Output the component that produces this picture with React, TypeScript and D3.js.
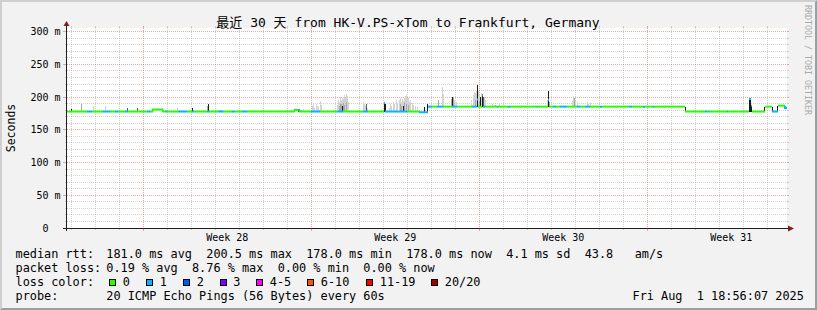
import React from "react";
import * as d3 from "d3";

// ---------- data ----------
const GRAPH_END = new Date(2025, 7, 1, 19, 40, 0);
const GRAPH_START = d3.timeDay.offset(GRAPH_END, -30);
const Y_TOP = 305.7; // ms

const yMajorTicks = [0, 50, 100, 150, 200, 250, 300];
const yTickLabels = ["0  ", "50 m", "100 m", "150 m", "200 m", "250 m", "300 m"];
const yMinorStep = 10;

const titleText = "最近 30 天 from HK-V.PS-xTom to Frankfurt, Germany";
const yAxisTitle = "Seconds";
const watermarkText = "RRDTOOL / TOBI OETIKER";

const lossLabels = ["0", "1", "2", "3", "4-5", "6-10", "11-19", "20/20"];
const lossColors = ["#26ff00", "#00b8ff", "#0059ff", "#7e00ff", "#ff00ff", "#ff5500", "#ff0000", "#a00000"];

const rowLabels = ["median rtt:", "packet loss:", "loss color:", "probe:"];
const rttStats = "181.0 ms avg  200.5 ms max  178.0 ms min  178.0 ms now  4.1 ms sd  43.8   am/s";
const lossStats = "0.19 % avg  8.76 % max  0.00 % min  0.00 % now";
const probeText = "20 ICMP Echo Pings (56 Bytes) every 60s";
const stampText = "Fri Aug  1 18:56:07 2025";

// median rtt segments: [startHour, endHour, ms, lossLevel]
const medianSegments: [number, number, number, number][] = [
  [0, 20, 178, 0], [20, 25, 178, 1], [25, 36, 178, 0], [36, 43, 178, 1], [43, 48, 178, 0],
  [48, 51, 178, 1], [51, 58, 178, 0], [58, 61, 178, 1], [61, 80, 178, 0], [80, 83, 178, 1],
  [83, 86, 178, 0], [86, 96, 181, 0], [96, 98, 178, 0], [98, 100, 178, 1], [100, 111, 178, 0],
  [111, 120, 178, 1], [120, 125, 178, 0], [125, 127, 178, 1], [127, 140, 178, 0], [140, 142, 178, 1],
  [142, 151, 178, 0], [151, 156, 178, 1], [156, 165, 178, 0], [165, 168, 178, 1], [168, 175, 178, 0],
  [175, 180, 178, 1], [180, 228, 178, 0], [228, 231, 180.5, 0], [231, 233, 180.5, 1], [233, 244, 178, 0],
  [244, 253, 178, 1], [253, 270, 178, 0], [270, 276, 178, 1], [276, 296, 178, 0], [296, 301, 178, 1],
  [301, 317, 178, 0], [317, 318, 191, 1], [318, 340, 178, 1], [340, 353, 178, 0], [353, 361, 177, 1],
  [361, 365, 185.5, 1], [365, 370, 185.5, 0], [370, 376, 185.5, 1], [376, 385, 185.5, 0], [385, 390, 185.5, 1],
  [390, 405, 185.5, 0], [405, 410, 185.5, 1], [410, 411, 196.5, 1], [411, 415, 185.5, 0], [415, 416, 203, 1],
  [416, 418, 185.5, 1], [418, 430, 185.5, 0], [430, 431, 185.5, 1], [431, 441, 185.5, 0], [441, 443, 185.5, 1],
  [443, 470, 185.5, 0], [470, 471, 185.5, 1], [471, 481, 185.5, 0], [481, 482, 196, 1], [482, 486, 185.5, 0],
  [486, 489, 185.5, 1], [489, 493, 185.5, 0], [493, 500, 185.5, 1], [500, 510, 185.5, 0], [510, 513, 185.5, 1],
  [513, 518, 185.5, 0], [518, 523, 185.5, 1], [523, 533, 185.5, 0], [533, 535, 185.5, 1], [535, 562, 185.5, 0],
  [562, 565, 185.5, 1], [565, 576, 185.5, 0], [576, 578, 185.5, 1], [578, 586, 185.5, 0], [586, 587, 185.5, 1],
  [587, 618, 185.5, 0], [618, 638, 178, 0], [638, 640, 178, 1], [640, 641, 178, 0], [641, 642, 178, 1],
  [642, 660, 178, 0], [660, 661, 178, 1], [661, 682, 178, 0], [682, 684, 197, 1], [684, 685, 187, 1],
  [685, 698, 178, 0], [698, 705, 185.5, 0], [705, 711, 178, 1], [711, 718, 187, 0], [718, 720, 183.5, 1],
];

// smoke (ping spread per hour): [hour, lowMs, highMs, shade 1=light .. 4=black]
const smoke: [number, number, number, number][] = [
  [4, 178, 182, 4], [14, 178, 190, 2], [26, 178, 186, 1], [38, 178, 186, 1], [54, 178, 181, 1],
  [60, 178, 183, 3], [70, 178, 184, 3], [96, 178, 181, 3], [110, 178, 184, 1], [125, 178, 183, 4],
  [140, 178, 186, 2], [141, 178, 189, 4], [153, 178, 181, 2], [225, 178, 181, 1], [231, 178, 182, 3],
  [236, 178, 182, 1],
  [245, 178, 186, 1], [246, 178, 191.5, 1], [247, 178, 184, 1], [249, 178, 189, 1], [250, 178, 186, 1],
  [251, 178, 185, 1], [253, 178, 194.5, 1], [254, 178, 188, 1],
  [270, 178, 188, 1], [271, 178, 195, 1], [272, 178, 192, 1], [273, 178, 200, 1], [274, 178, 196, 1],
  [275, 178, 199, 1], [276, 178, 197, 1], [277, 178, 203, 1], [278, 178, 199, 1], [279, 178, 205, 1],
  [280, 178, 201, 1], [281, 178, 192, 1],
  [272, 178, 186, 2], [273, 178, 190, 2], [274, 178, 189, 2], [276, 178, 191, 2], [277, 178, 188, 2],
  [279, 178, 192, 2], [275, 178, 186.5, 4],
  [296, 178, 193, 1], [297, 178, 190, 1], [298, 178, 186, 1], [299, 178, 189.5, 3], [300, 178, 184, 1],
  [317, 178, 193, 4], [318, 178, 190, 4],
  [322, 178, 184, 1], [323, 178, 190, 1], [324, 178, 187, 1], [326, 178, 192, 1], [327, 178, 189, 1],
  [329, 178, 195, 1], [330, 178, 191, 1], [332, 178, 196, 1], [333, 178, 199, 1], [334, 178, 193, 1],
  [335, 178, 197, 1], [336, 178, 194, 1], [337, 178, 198, 1], [338, 178, 202, 1], [339, 178, 203, 1],
  [340, 178, 197, 1], [341, 178, 199, 1], [342, 178, 193, 1], [343, 178, 195, 1], [345, 178, 191, 1],
  [346, 178, 188, 1], [348, 178, 186, 1], [350, 178, 185, 1],
  [333, 178, 189, 2], [334, 178, 187, 2], [337, 178, 191, 2], [339, 178, 190, 2], [341, 178, 188, 2],
  [336, 178, 186, 4],
  [357, 177, 184.5, 4], [360, 177, 189, 4],
  [371, 185.5, 195.6, 2], [375, 185.5, 216, 1], [376, 185.5, 205, 1],
  [384, 185.5, 197, 2], [385, 185.5, 200, 4], [386, 185.5, 198, 2], [387, 185.5, 195, 1], [389, 185.5, 193, 1],
  [404, 185.5, 195, 1], [406, 185.5, 203, 1], [407, 185.5, 208, 1], [408, 185.5, 206, 1], [409, 185.5, 210, 1],
  [411, 185.5, 209, 1], [412, 185.5, 204, 1], [414, 185.5, 207, 1], [417, 185.5, 200, 1], [418, 185.5, 196, 1],
  [408, 185.5, 196, 2], [412, 185.5, 194, 2],
  [410, 185.5, 219, 4], [413, 185.5, 200, 4], [415, 185.5, 205, 4], [416, 185.5, 200, 3],
  [425, 185.5, 190, 1], [428, 185.5, 188, 2], [432, 185.5, 190, 1],
  [480, 185.5, 196, 1], [481, 185.5, 209, 4], [482, 185.5, 193, 2],
  [505, 185.5, 194, 1], [506, 185.5, 202.5, 1], [507, 185.5, 199, 2], [508, 185.5, 196, 1], [510, 185.5, 192, 1],
  [520, 185.5, 193, 1], [521, 185.5, 190, 1], [523, 185.5, 191, 1],
  [618, 178, 185.5, 4], [682, 178, 197, 4], [683, 178, 197, 4], [684, 178, 187, 4],
  [697, 178, 185.5, 4], [705, 178, 185.5, 4], [710, 178, 187, 4],
];
const smokeShades = ["none", "#d3d3d3", "#a8a8a8", "#5c5c5c", "#1c1c1c"];

// ---------- layout / style ----------
const W = 817, H = 310;
const L = 67, R = 787, T = 28, B = 228;
const MONO = "'DejaVu Sans Mono', monospace";
const COL_BACK = "#f2f2f2", COL_SHADEA = "#cfcfcf", COL_SHADEB = "#9e9e9e";
const COL_GRID = "rgba(143,143,143,0.4)", COL_MGRID = "rgba(222,79,79,0.5)";
const COL_AXIS = "#1f1f1f", COL_ARROW = "#801f1f";
const legendBoxX = [109, 146, 183, 219.5, 256, 307, 366, 431];
const rowY = [258.3, 272.3, 286.3, 300.3];
const MAX_CONNECT = 4; // ms: only small steps get a drawn connector

export default function App() {
  const x = d3.scaleTime().domain([GRAPH_START, GRAPH_END]).range([L, R]);
  const xh = (h: number) => x(new Date(+GRAPH_START + h * 3600e3));
  const y = d3.scaleLinear().domain([0, Y_TOP]).range([B, T]);
  const crisp = (v: number) => Math.floor(v) + 0.5;

  const weekStarts = d3.timeSunday.range(GRAPH_START, GRAPH_END);
  const dayLines = d3.timeDay.range(GRAPH_START, GRAPH_END).filter((d) => d.getDay() !== 0);
  const weekMids = d3.timeSunday
    .range(d3.timeSunday.offset(GRAPH_START, -1), GRAPH_END)
    .map((d) => d3.timeHour.offset(d, 84))
    .filter((d) => d >= GRAPH_START && d <= GRAPH_END);
  const weekFmt = d3.timeFormat("Week %V");
  const yMinor = d3.range(yMinorStep, Y_TOP, yMinorStep).filter((v) => v % 50 !== 0);

  const smokeSorted = [...smoke].sort((a, b) => a[3] - b[3]);

  const segPaths = medianSegments.map((s, i) => {
    const prev = i > 0 ? medianSegments[i - 1][2] : s[2];
    const x0 = xh(s[0]), x1 = xh(s[1]);
    const yv = y(s[2]);
    const step = prev !== s[2] && Math.abs(prev - s[2]) <= MAX_CONNECT;
    const d = step ? `M${x0},${y(prev)}V${yv}H${x1}` : `M${x0},${yv}H${x1}`;
    return { d, color: lossColors[s[3]] };
  });

  return (
    <svg width={W} height={H} style={{ position: "absolute", left: 0, top: 0, display: "block" }}
      fontFamily={MONO}>
      <rect x={0} y={0} width={W} height={H} fill={COL_BACK} />
      <polygon points={`0,0 ${W},0 ${W - 2},2 2,2 2,${H - 2} 0,${H}`} fill={COL_SHADEA} />
      <polygon points={`${W},0 ${W},${H} 0,${H} 2,${H - 2} ${W - 2},${H - 2} ${W - 2},2`} fill={COL_SHADEB} />
      <rect x={L} y={T} width={R - L} height={B - T} fill="#ffffff" />

      {/* grid */}
      <g shapeRendering="crispEdges">
        {yMinor.map((v) => (
          <g key={"ym" + v}>
            <line x1={L} x2={R} y1={crisp(y(v))} y2={crisp(y(v))} stroke={COL_GRID} strokeDasharray="1,1" />
            <line x1={L - 2} x2={L} y1={crisp(y(v))} y2={crisp(y(v))} stroke={COL_GRID} />
            <line x1={R} x2={R + 2} y1={crisp(y(v))} y2={crisp(y(v))} stroke={COL_GRID} />
          </g>
        ))}
        {dayLines.map((d) => (
          <g key={"xd" + +d}>
            <line y1={T} y2={B} x1={crisp(x(d))} x2={crisp(x(d))} stroke={COL_GRID} strokeDasharray="1,1" />
            <line y1={B} y2={B + 2} x1={crisp(x(d))} x2={crisp(x(d))} stroke={COL_GRID} />
            <line y1={T - 2} y2={T} x1={crisp(x(d))} x2={crisp(x(d))} stroke={COL_GRID} />
          </g>
        ))}
        {yMajorTicks.map((v) => (
          <g key={"yM" + v}>
            <line x1={L} x2={R} y1={crisp(y(v))} y2={crisp(y(v))} stroke={COL_MGRID} strokeDasharray="1,1" />
            <line x1={L - 4} x2={L} y1={crisp(y(v))} y2={crisp(y(v))} stroke={COL_MGRID} />
            <line x1={R} x2={R + 2} y1={crisp(y(v))} y2={crisp(y(v))} stroke={COL_MGRID} />
          </g>
        ))}
        {weekStarts.map((d) => (
          <g key={"xw" + +d}>
            <line y1={T} y2={B} x1={crisp(x(d))} x2={crisp(x(d))} stroke={COL_MGRID} strokeDasharray="1,1" />
            <line y1={B} y2={B + 3} x1={crisp(x(d))} x2={crisp(x(d))} stroke={COL_MGRID} />
            <line y1={T - 2} y2={T} x1={crisp(x(d))} x2={crisp(x(d))} stroke={COL_MGRID} />
          </g>
        ))}
      </g>

      {/* smoke */}
      <g shapeRendering="crispEdges">
        {smokeSorted.map((s, i) => (
          <rect key={"s" + i} x={Math.round(xh(s[0]))} width={1}
            y={y(s[2])} height={y(s[1]) - y(s[2])} fill={smokeShades[s[3]]} />
        ))}
      </g>

      {/* median coloured by loss */}
      <g fill="none" strokeWidth={2}>
        {segPaths.map((p, i) => (
          <path key={"m" + i} d={p.d} stroke={p.color} />
        ))}
      </g>

      {/* axes */}
      <g shapeRendering="crispEdges">
        <line x1={L - 4} x2={R + 2} y1={B + 0.5} y2={B + 0.5} stroke={COL_AXIS} />
        <line x1={L - 0.5} x2={L - 0.5} y1={B + 3} y2={T - 2} stroke={COL_AXIS} />
      </g>
      <polygon points={`${R + 1},${B - 2.5} ${R + 1},${B + 3.5} ${R + 7},${B + 0.5}`} fill={COL_ARROW} />
      <polygon points={`${L - 3.5},${T - 2} ${L + 2.5},${T - 2} ${L - 0.5},${T - 7}`} fill={COL_ARROW} />

      {/* axis labels */}
      {yMajorTicks.map((v, i) => (
        <text key={"yl" + v} x={60.5} y={y(v) + 3.5} fontSize={10} textAnchor="end" xmlSpace="preserve">
          {yTickLabels[i]}
        </text>
      ))}
      {weekMids.map((d) => (
        <text key={"wl" + +d} x={x(d)} y={240.7} fontSize={10} textAnchor="middle">
          {weekFmt(d)}
        </text>
      ))}

      <text x={408} y={26.6} fontSize={13} textAnchor="middle" xmlSpace="preserve"
        fontFamily="'DejaVu Sans Mono', 'Noto Sans CJK SC', monospace">
        {titleText}
      </text>
      <text transform={`translate(15,${(T + B) / 2}) rotate(-90)`} fontSize={11.5} textAnchor="middle">
        {yAxisTitle}
      </text>
      <text transform="translate(804.5,5) rotate(90)" fontSize={8.3} fill="#aaaaaa" xmlSpace="preserve">
        {watermarkText}
      </text>

      {/* legend */}
      <g fontSize={11.86}>
        {rowLabels.map((t, i) => (
          <text key={"rl" + i} x={15.5} y={rowY[i]} xmlSpace="preserve">{t}</text>
        ))}
        <text x={106.3} y={rowY[0]} xmlSpace="preserve">{rttStats}</text>
        <text x={106.3} y={rowY[1]} xmlSpace="preserve">{lossStats}</text>
        {lossLabels.map((t, i) => (
          <g key={"lc" + i}>
            <rect x={legendBoxX[i] + 0.5} y={279.5} width={6} height={6} fill={lossColors[i]} stroke="#000" strokeWidth={1} shapeRendering="crispEdges" />
            <text x={legendBoxX[i] + 13.8} y={rowY[2]}>{t}</text>
          </g>
        ))}
        <text x={106.3} y={rowY[3]} xmlSpace="preserve">{probeText}</text>
        <text x={632.5} y={rowY[3]} xmlSpace="preserve">{stampText}</text>
      </g>
    </svg>
  );
}
